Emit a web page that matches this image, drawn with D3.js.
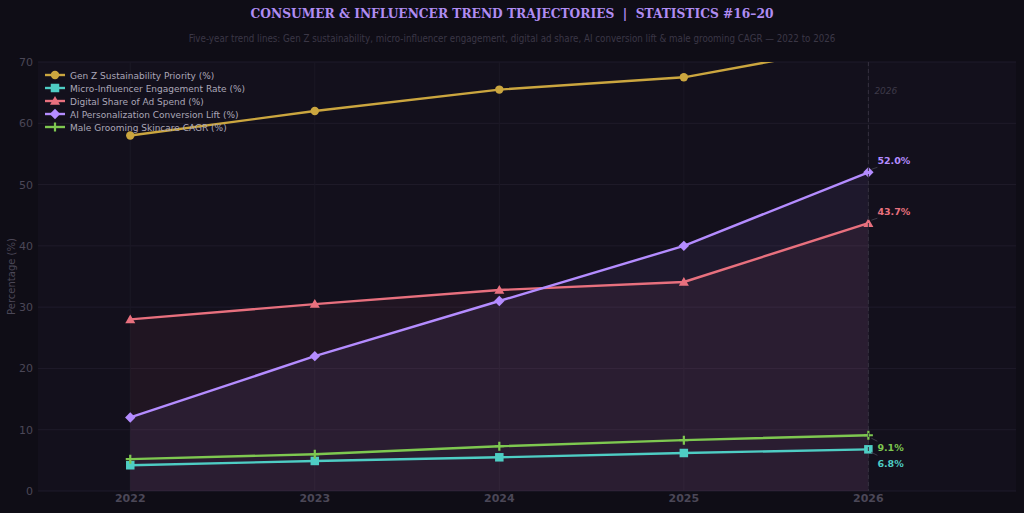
<!DOCTYPE html>
<html>
<head>
<meta charset="utf-8">
<title>Consumer & Influencer Trend Trajectories</title>
<script src="https://d3js.org/d3.v7.min.js"></script>
<style>
  body { margin: 0; background: #0f0d16; }
  svg { display: block; }
</style>
</head>
<body>
<div id="chart"></div>
<script>
// data
var years = [2022, 2023, 2024, 2025, 2026];
var genZ = [58.0, 62.0, 65.5, 67.5, 73.0];
var microInf = [4.2, 4.9, 5.5, 6.2, 6.8];
var digitalShare = [28.0, 30.5, 32.8, 34.1, 43.7];
var aiLift = [12.0, 22.0, 31.0, 40.0, 52.0];
var maleGrooming = [5.2, 6.0, 7.3, 8.3, 9.1];
var yTicks = [0, 10, 20, 30, 40, 50, 60, 70];

var series = [
  { name: "Gen Z Sustainability Priority (%)", values: genZ, color: "#cba63f", marker: "circle", fill: false, label: false },
  { name: "Micro-Influencer Engagement Rate (%)", values: microInf, color: "#4ecdc4", marker: "square", fill: false, label: true, dy: 14 },
  { name: "Digital Share of Ad Spend (%)", values: digitalShare, color: "#e8707e", marker: "triangle", fill: true, label: true, dy: -12, op: 0.065 },
  { name: "AI Personalization Conversion Lift (%)", values: aiLift, color: "#b48cff", marker: "diamond", fill: true, label: true, dy: -12, op: 0.07 },
  { name: "Male Grooming Skincare CAGR (%)", values: maleGrooming, color: "#7ec850", marker: "plus", fill: false, label: true, dy: 12 }
];

var W = 1024, H = 513;
var margin = { top: 62, right: 8, bottom: 22, left: 38 };

var svg = d3.select("#chart").append("svg")
  .attr("width", W).attr("height", H);

svg.append("rect").attr("width", W).attr("height", H).attr("fill", "#0f0d16");

var x = d3.scaleLinear().domain([2021.5, 2026.8]).range([margin.left, W - margin.right]);
var y = d3.scaleLinear().domain([0, 70]).range([H - margin.bottom, margin.top]);

// plot background
svg.append("rect")
  .attr("x", x(2021.5)).attr("y", y(70))
  .attr("width", x(2026.8) - x(2021.5)).attr("height", y(0) - y(70))
  .attr("fill", "#13101c");

svg.append("defs").append("clipPath").attr("id", "clip")
  .append("rect")
  .attr("x", x(2021.5)).attr("y", y(70))
  .attr("width", x(2026.8) - x(2021.5)).attr("height", y(0) - y(70));

// grid
svg.append("g").selectAll("line").data(yTicks).join("line")
  .attr("x1", x(2021.5)).attr("x2", x(2026.8))
  .attr("y1", d => y(d)).attr("y2", d => y(d))
  .attr("stroke", "#1f1b2a").attr("stroke-width", 1);
svg.append("g").selectAll("line").data(years).join("line")
  .attr("x1", d => x(d)).attr("x2", d => x(d))
  .attr("y1", y(70)).attr("y2", y(0))
  .attr("stroke", "#1b1825").attr("stroke-width", 1);

var plot = svg.append("g").attr("clip-path", "url(#clip)");

// area fills
var area = d3.area().x((d, i) => x(years[i])).y0(y(0)).y1(d => y(d));
series.filter(s => s.fill).forEach(function (s) {
  plot.append("path").datum(s.values)
    .attr("d", area)
    .attr("fill", s.color)
    .attr("fill-opacity", s.op);
});

// 2026 marker line
svg.append("line")
  .attr("x1", x(2026)).attr("x2", x(2026))
  .attr("y1", y(70)).attr("y2", y(0))
  .attr("stroke", "#35303f").attr("stroke-width", 1)
  .attr("stroke-dasharray", "4,3");
svg.append("text")
  .attr("x", x(2026) + 6).attr("y", 94)
  .attr("font-family", "DejaVu Sans").attr("font-size", 9).attr("font-style", "italic")
  .attr("fill", "#3d3948").text("2026");

// lines
var line = d3.line().x((d, i) => x(years[i])).y(d => y(d));
series.forEach(function (s) {
  plot.append("path").datum(s.values)
    .attr("d", line)
    .attr("fill", "none")
    .attr("stroke", s.color)
    .attr("stroke-width", 2.4)
    .attr("stroke-linejoin", "round");
});

function drawMarker(g, type, cx, cy, color, scale) {
  scale = scale || 1;
  if (type === "circle") {
    g.append("circle").attr("cx", cx).attr("cy", cy).attr("r", 4.2 * scale).attr("fill", color);
  } else if (type === "square") {
    var s = 8.5 * scale;
    g.append("rect").attr("x", cx - s / 2).attr("y", cy - s / 2).attr("width", s).attr("height", s).attr("fill", color);
  } else if (type === "triangle") {
    var r = 5 * scale;
    g.append("path").attr("d", "M" + cx + "," + (cy - r) + "L" + (cx + r) + "," + (cy + r * 0.75) + "L" + (cx - r) + "," + (cy + r * 0.75) + "Z").attr("fill", color);
  } else if (type === "diamond") {
    var d = 5.2 * scale;
    g.append("path").attr("d", "M" + cx + "," + (cy - d) + "L" + (cx + d) + "," + cy + "L" + cx + "," + (cy + d) + "L" + (cx - d) + "," + cy + "Z").attr("fill", color);
  } else if (type === "plus") {
    var p = 4.5 * scale;
    g.append("path").attr("d", "M" + (cx - p) + "," + cy + "H" + (cx + p) + "M" + cx + "," + (cy - p) + "V" + (cy + p))
      .attr("stroke", color).attr("stroke-width", 2.2);
  }
}

// markers
series.forEach(function (s) {
  s.values.forEach(function (v, i) {
    drawMarker(plot, s.marker, x(years[i]), y(v), s.color);
  });
});

// end-point labels
series.filter(s => s.label).forEach(function (s) {
  var v = s.values[s.values.length - 1];
  var px = x(2026), py = y(v);
  svg.append("line")
    .attr("x1", px + 3).attr("y1", py + (s.dy < 0 ? -3 : 3))
    .attr("x2", px + 9).attr("y2", py + (s.dy < 0 ? -5 : 6))
    .attr("stroke", "#3d3948").attr("stroke-width", 1);
  svg.append("text")
    .attr("x", px + 9).attr("y", py + s.dy + 3.5)
    .attr("font-family", "DejaVu Sans").attr("font-size", 9.5).attr("font-weight", "bold")
    .attr("fill", s.color).text(v.toFixed(1) + "%");
});

// axes labels
svg.append("g").selectAll("text").data(yTicks).join("text")
  .attr("x", 33).attr("y", d => y(d) + 4)
  .attr("text-anchor", "end")
  .attr("font-family", "DejaVu Sans").attr("font-size", 11)
  .attr("fill", "#4b4757").text(d => d);
svg.append("g").selectAll("text").data(years).join("text")
  .attr("x", d => x(d)).attr("y", 502)
  .attr("text-anchor", "middle")
  .attr("font-family", "DejaVu Sans").attr("font-size", 11).attr("font-weight", "bold")
  .attr("fill", "#4b4757").text(d => d);
svg.append("text")
  .attr("transform", "translate(15," + ((y(0) + y(70)) / 2) + ") rotate(-90)")
  .attr("text-anchor", "middle")
  .attr("font-family", "DejaVu Sans").attr("font-size", 10)
  .attr("fill", "#4b4757").text("Percentage (%)");

// title
svg.append("text")
  .attr("x", W / 2).attr("y", 18)
  .attr("text-anchor", "middle")
  .attr("font-family", "DejaVu Serif Condensed, DejaVu Serif").attr("font-size", 13.6).attr("font-weight", "bold")
  .attr("fill", "#b08cf2").text("CONSUMER & INFLUENCER TREND TRAJECTORIES  |  STATISTICS #16–20")
  .attr("xml:space", "preserve");
svg.append("text")
  .attr("x", W / 2).attr("y", 42)
  .attr("text-anchor", "middle")
  .attr("font-family", "DejaVu Sans Condensed, DejaVu Sans").attr("font-size", 9.7)
  .attr("fill", "#3b3746")
  .text("Five-year trend lines: Gen Z sustainability, micro-influencer engagement, digital ad share, AI conversion lift & male grooming CAGR — 2022 to 2026");

// legend
var legend = svg.append("g").attr("transform", "translate(45,75)");
series.forEach(function (s, i) {
  var ly = i * 13;
  legend.append("line").attr("x1", 0).attr("x2", 20).attr("y1", ly).attr("y2", ly)
    .attr("stroke", s.color).attr("stroke-width", 2.4);
  drawMarker(legend, s.marker, 10, ly, s.color, 1);
  legend.append("text").attr("x", 25).attr("y", ly + 3.5)
    .attr("font-family", "DejaVu Sans").attr("font-size", 9)
    .attr("fill", "#aba7b8").text(s.name);
});
</script>
</body>
</html>
